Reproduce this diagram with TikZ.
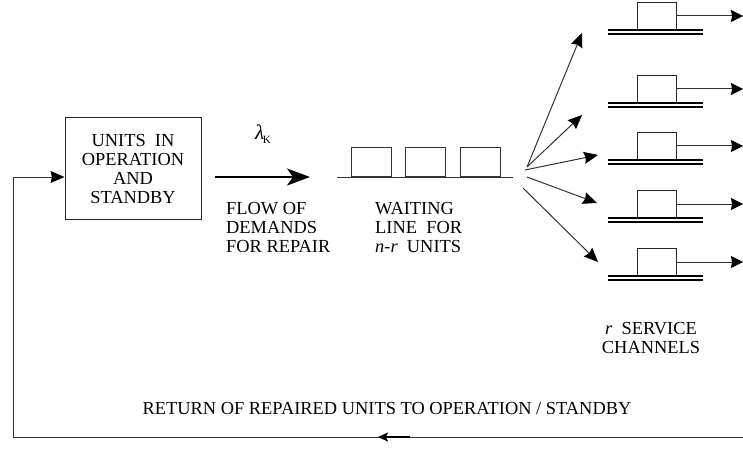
\documentclass[tikz,border=0pt]{standalone}
\usepackage{fontspec}
\setmainfont{Liberation Serif}
\usetikzlibrary{arrows.meta}
\begin{document}
\begin{tikzpicture}[x=1pt,y=-1pt,
  txt/.style={font=\fontsize{18.4}{19}\selectfont, inner sep=0pt},
  thinln/.style={line width=1pt, draw=black!80},
  tip/.style={-{Stealth[length=14pt,width=12pt,inset=1.5pt,color=black]}},
  outtip/.style={-{Stealth[length=12pt,width=12pt,inset=1pt,color=black]}},
  qbox/.style={draw=black!80, line width=1pt, minimum width=40pt, minimum height=29pt, inner sep=0pt, anchor=south},
  sbox/.style={draw=black!85, line width=1pt, minimum width=39pt, minimum height=27pt, inner sep=0pt, anchor=south}]
\useasboundingbox (0,0) rectangle (743,449);

% units box
\node[draw=black!85, line width=1pt, minimum width=136pt, minimum height=101pt, align=center, txt] (units) at (133,168.5) {UNITS~~IN\\OPERATION\\AND\\STANDBY};

% flow arrow
\coordinate (fa) at (215,177);
\coordinate (fb) at (310,177);
\draw[line width=2.2pt, -{Stealth[length=23pt,width=17pt,inset=6pt]}] (fa) -- (fb);
\node[inner sep=0pt] (lam) at (263,134) {\fontsize{21}{21}\selectfont\textit{λ}\kern-1.5pt\raisebox{-4pt}{\fontsize{11}{11}\selectfont K}};
\node[txt, align=left, anchor=north west] (flow) at (226,202) {FLOW OF\\DEMANDS\\FOR REPAIR};

% waiting line
\coordinate (wl) at (337,177);
\coordinate (wr) at (513,177);
\draw[thinln] (wl) -- (wr);
\node[qbox] (q1) at (371,177) {};
\node[qbox] (q2) at (425,177) {};
\node[qbox] (q3) at (480,177) {};
\node[txt, align=left, anchor=north west] (wait) at (375,202) {WAITING\\LINE~~FOR\\\textit{n-r}~~UNITS};

% fan arrows
\coordinate (o1) at (527,167);
\coordinate (o2) at (525,170);
\coordinate (o3) at (527,177);
\coordinate (o4) at (523,188);
\coordinate (t1) at (582,33);
\coordinate (t2) at (582,115);
\coordinate (t3) at (598,155);
\coordinate (t4) at (597,203);
\coordinate (t5) at (598,262);
\draw[thinln, tip] (o1) -- (t1);
\draw[thinln, tip] (o1) -- (t2);
\draw[thinln, tip] (o2) -- (t3);
\draw[thinln, tip] (o3) -- (t4);
\draw[thinln, tip] (o4) -- (t5);

% service channels
\foreach \c [count=\i] in {17,90,147,205,263} {
  \node[sbox] (s\i) at (656.5,\c+13) {};
  \coordinate (la\i) at (608,\c+13);
  \coordinate (lb\i) at (703,\c+13);
  \coordinate (lc\i) at (608,\c+17);
  \coordinate (ld\i) at (703,\c+17);
  \draw[line width=1.3pt] (la\i) -- (lb\i);
  \draw[line width=1.3pt] (lc\i) -- (ld\i);
  \coordinate (e\i) at (743,\c);
  \draw[thinln, outtip] (s\i.east) -- (s\i.east -| e\i);
}
\node[txt, align=center] (rsc) at (651,338) {\textit{r}~~SERVICE\\CHANNELS};

% return path
\node[txt] (ret) at (387,408) {RETURN OF REPAIRED UNITS TO OPERATION / STANDBY};
\coordinate (br) at (743,437);
\coordinate (bl) at (13,437);
\coordinate (bt) at (13,177);
\draw[thinln, tip] (br) -- (bl) -- (bt) -- (units.west |- bt);
\coordinate (sa1) at (410,437);
\coordinate (sa2) at (378,437);
\draw[line width=1.8pt, -{Stealth[length=10pt,width=9pt,inset=2pt]}] (sa1) -- (sa2);
\end{tikzpicture}
\end{document}
